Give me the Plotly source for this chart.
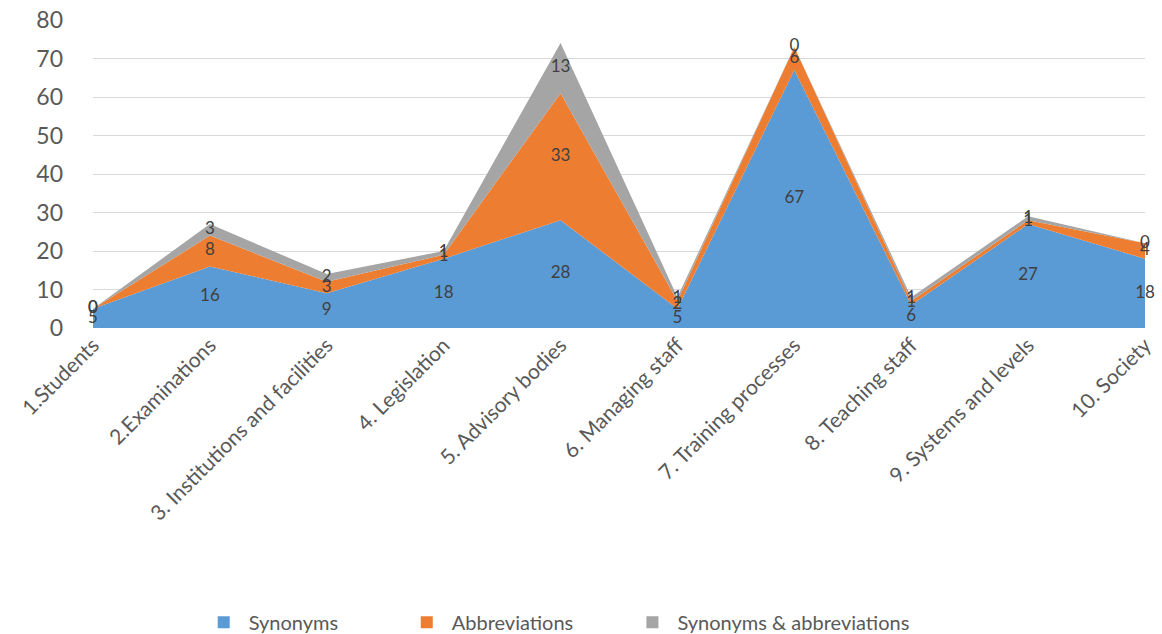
import plotly.graph_objects as go

categories = ["1.Students", "2.Examinations", "3. Institutions and facilities", "4. Legislation",
              "5. Advisory bodies", "6. Managing staff", "7. Training processes",
              "8. Teaching staff", "9. Systems and levels", "10. Society"]
synonyms = [5, 16, 9, 18, 28, 5, 67, 6, 27, 18]
abbreviations = [0, 8, 3, 1, 33, 2, 6, 1, 1, 4]
syn_abbr = [0, 3, 2, 1, 13, 1, 0, 1, 1, 0]

series = [
    ("Synonyms", synonyms, "#5B9BD5"),
    ("Abbreviations", abbreviations, "#ED7D31"),
    ("Synonyms & abbreviations", syn_abbr, "#A5A5A5"),
]
legend_ids = ["legend", "legend2", "legend3"]
legend_x = [0.1005, 0.2935, 0.508]

font_family = "Lato, 'Open Sans', sans-serif"
x_idx = list(range(len(categories)))

fig = go.Figure()
base = [0] * len(categories)
label_traces = []
for (name, vals, color), lid in zip(series, legend_ids):
    fig.add_trace(go.Scatter(
        x=x_idx, y=vals, name=name, stackgroup="one", mode="none",
        fillcolor=color, hoverinfo="skip", showlegend=False,
    ))
    # square legend swatch
    fig.add_trace(go.Scatter(
        x=[None], y=[None], name=name, mode="markers", legend=lid,
        marker=dict(symbol="square", size=12, color=color),
    ))
    # value labels centred inside each stacked band
    mids = [b + v / 2 for b, v in zip(base, vals)]
    label_traces.append(go.Scatter(
        x=x_idx, y=mids, mode="text", text=[str(v) for v in vals],
        textfont=dict(family=font_family, size=17, color="#404040"),
        showlegend=False, hoverinfo="skip", cliponaxis=False,
    ))
    base = [b + v for b, v in zip(base, vals)]

for t in label_traces:
    fig.add_trace(t)

legend_style = dict(orientation="h", xanchor="left", y=-0.955, yanchor="middle",
                    font=dict(size=20, color="#595959"), bgcolor="rgba(0,0,0,0)",
                    itemwidth=40)

fig.update_layout(
    width=1162, height=634,
    margin=dict(l=93, r=17, t=20, b=306, autoexpand=False),
    plot_bgcolor="white", paper_bgcolor="white",
    font=dict(family=font_family, color="#595959"),
    legend=dict(x=legend_x[0], **legend_style),
    legend2=dict(x=legend_x[1], **legend_style),
    legend3=dict(x=legend_x[2], **legend_style),
    xaxis=dict(
        tickmode="array", tickvals=x_idx, ticktext=categories, tickangle=-45,
        range=[0, len(categories) - 1], showgrid=False, zeroline=False,
        tickfont=dict(size=21, color="#595959"), showline=False, automargin=False,
    ),
    yaxis=dict(
        range=[0, 80], dtick=10, showgrid=True, gridcolor="#D9D9D9", gridwidth=1,
        zeroline=False, tickfont=dict(size=23, color="#595959"),
        ticklabelstandoff=29, automargin=False,
    ),
)

fig.write_html("out.html")
